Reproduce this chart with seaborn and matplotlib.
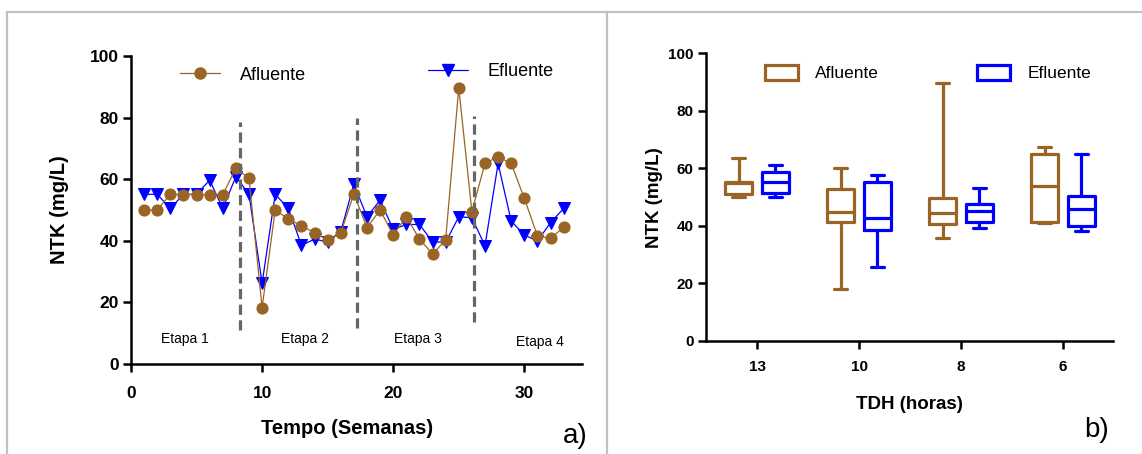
import numpy as np
import pandas as pd
import matplotlib
matplotlib.use("Agg")
import matplotlib.pyplot as plt
import seaborn as sns
from matplotlib.lines import Line2D
from matplotlib.patches import Patch

# ---------------- data ----------------
weeks = list(range(1, 34))
afluente = [50.0, 50.0, 55.1, 55.0, 55.0, 55.0, 55.0, 63.5, 60.3, 18.3, 50.0,
            47.1, 44.9, 42.6, 40.3, 42.6, 55.2, 44.3, 50.0, 41.9, 47.8, 40.6,
            35.7, 40.3, 89.7, 49.5, 65.1, 67.3, 65.1, 53.8, 41.6, 40.8, 44.4]
efluente = [55.1, 55.1, 50.5, 55.1, 55.1, 59.7, 50.5, 60.8, 55.1, 26.2, 55.1,
            50.5, 38.6, 40.5, 39.7, 43.0, 58.4, 47.8, 53.2, 43.7, 45.3, 45.3,
            39.7, 39.5, 47.8, 47.5, 38.4, 65.1, 46.4, 41.9, 39.9, 45.9, 50.5]

stage_bounds = [8.3, 17.25, 26.2]
stage_top = [78.6, 79.9, 80.5]
stage_bottom = [11.0, 11.7, 13.6]
stage_labels = ["Etapa 1", "Etapa 2", "Etapa 3", "Etapa 4"]
stage_label_x = [4.1, 13.3, 21.9, 31.2]
stage_label_y = [8.0, 8.0, 8.0, 7.3]

tdh = ["13", "10", "8", "6"]
# box summaries per TDH: min, q1, median, q3, max
afl_box = [[49.9, 51.1, 55.0, 55.4, 63.5],
           [18.0, 41.5, 44.7, 52.7, 60.1],
           [35.7, 40.6, 44.5, 49.8, 89.6],
           [40.9, 41.5, 53.9, 65.0, 67.3]]
efl_box = [[49.9, 51.3, 55.2, 58.9, 61.2],
           [25.6, 38.6, 42.6, 55.2, 57.8],
           [39.2, 41.5, 45.2, 47.5, 53.1],
           [38.2, 40.0, 45.8, 50.4, 64.9]]
series = ["Afluente", "Efluente"]

BROWN = "#9A6524"
BLUE = "#0000FF"

# ---------------- style ----------------
sns.set_style("ticks")
plt.rcParams['font.family'] = ['Liberation Sans', 'DejaVu Sans']
plt.rcParams['text.color'] = 'black'
plt.rcParams['axes.labelcolor'] = 'black'
plt.rcParams['xtick.color'] = 'black'
plt.rcParams['ytick.color'] = 'black'

fig = plt.figure(figsize=(11.42, 4.54), dpi=100)
W, H = 1142, 454

def fx(px):
    return px / W

def fy(py):
    return 1 - py / H

ax1 = fig.add_axes([fx(131), fy(364), (582 - 131) / W, (364 - 56) / H])
ax2 = fig.add_axes([fx(706), fy(341), (1113 - 706) / W, (341 - 53.3) / H])

# ---------------- left panel ----------------
sns.lineplot(x=weeks, y=efluente, color=BLUE, marker="v", markersize=8,
             markeredgecolor=BLUE, linewidth=0.9, ax=ax1)
sns.lineplot(x=weeks, y=afluente, color=BROWN, marker="o", markersize=8,
             markeredgecolor=BROWN, linewidth=0.9, ax=ax1)

ax1.vlines(stage_bounds, stage_bottom, stage_top, colors="#666666",
           linestyles=(0, (3.2, 1.7)), linewidth=2.3)
for x, y, t in zip(stage_label_x, stage_label_y, stage_labels):
    ax1.text(x, y, t, ha="center", va="center", fontsize=10, color="black")

ax1.set_xlim(0, 34.4)
ax1.set_ylim(0, 100)
ax1.set_xticks([0, 10, 20, 30])
ax1.set_yticks([0, 20, 40, 60, 80, 100])
ax1.tick_params(width=1.8, length=6, labelsize=12.5, color="black")
ax1.tick_params(axis="x", pad=10)
ax1.tick_params(axis="y", pad=3)
for lab in ax1.get_xticklabels() + ax1.get_yticklabels():
    lab.set_fontweight("bold")
for s in ["left", "bottom"]:
    ax1.spines[s].set_linewidth(1.8)
    ax1.spines[s].set_color("black")
sns.despine(ax=ax1)
ax1.set_xlabel("Tempo (Semanas)", fontsize=14.5, fontweight="bold")
ax1.set_ylabel("NTK (mg/L)", fontsize=14.5, fontweight="bold")
ax1.xaxis.set_label_coords(0.48, -0.18)
ax1.yaxis.set_label_coords(-0.137, 0.5)

h_afl = Line2D([], [], color=BROWN, marker="o", markersize=8, linewidth=0.9)
h_efl = Line2D([], [], color=BLUE, marker="v", markersize=8, linewidth=0.9)
fig.legend([h_afl], ["Afluente"], loc="center left",
           bbox_to_anchor=(fx(180), fy(75)), frameon=False,
           fontsize=13, handlelength=2.2, handletextpad=1.1,
           borderpad=0, borderaxespad=0)
fig.legend([h_efl], ["Efluente"], loc="center left",
           bbox_to_anchor=(fx(428), fy(72)), frameon=False,
           fontsize=13, handlelength=2.2, handletextpad=1.1,
           borderpad=0, borderaxespad=0)

# ---------------- right panel ----------------
rows = []
for i, t in enumerate(tdh):
    for v in afl_box[i]:
        rows.append({"TDH": t, "NTK": v, "Serie": series[0]})
    for v in efl_box[i]:
        rows.append({"TDH": t, "NTK": v, "Serie": series[1]})
df = pd.DataFrame(rows)

sns.boxplot(data=df, x="TDH", y="NTK", hue="Serie", order=tdh,
            hue_order=series, palette=[BROWN, BLUE], fill=False,
            width=0.72, gap=0.28, whis=(0, 100), linewidth=2.3,
            legend=False, ax=ax2)

ax2.set_xlim(-0.5, 3.49)
ax2.set_ylim(0, 100)
ax2.set_yticks([0, 20, 40, 60, 80, 100])
ax2.tick_params(width=1.8, length=6, labelsize=11, color="black")
ax2.tick_params(axis="x", pad=8)
ax2.tick_params(axis="y", pad=3)
for lab in ax2.get_xticklabels() + ax2.get_yticklabels():
    lab.set_fontweight("bold")
for s in ["left", "bottom"]:
    ax2.spines[s].set_linewidth(1.8)
    ax2.spines[s].set_color("black")
sns.despine(ax=ax2)
ax2.set_xlabel("TDH (horas)", fontsize=13.5, fontweight="bold")
ax2.set_ylabel("NTK (mg/L)", fontsize=13.5, fontweight="bold")
ax2.xaxis.set_label_coords(0.50, -0.19)
ax2.yaxis.set_label_coords(-0.106, 0.5)

p_afl = Patch(facecolor="white", edgecolor=BROWN, linewidth=2.3)
p_efl = Patch(facecolor="white", edgecolor=BLUE, linewidth=2.3)
fig.legend([p_afl], ["Afluente"], loc="center left",
           bbox_to_anchor=(fx(765), fy(73)), frameon=False, fontsize=12.5,
           handlelength=1.9, handleheight=0.95, handletextpad=1.0,
           borderpad=0, borderaxespad=0)
fig.legend([p_efl], ["Efluente"], loc="center left",
           bbox_to_anchor=(fx(977), fy(73)), frameon=False, fontsize=12.5,
           handlelength=1.9, handleheight=0.95, handletextpad=1.0,
           borderpad=0, borderaxespad=0)

# ---------------- panel letters & frame ----------------
fig.text(fx(575), fy(436), "a)", ha="center", va="center", fontsize=20)
fig.text(fx(1097), fy(430), "b)", ha="center", va="center", fontsize=20)

frame_kw = dict(color="#c0c0c0", linewidth=1.6, transform=fig.transFigure)
fig.add_artist(Line2D([fx(7), 1.0], [fy(12), fy(12)], **frame_kw))
fig.add_artist(Line2D([fx(7), fx(7)], [0, fy(12)], **frame_kw))
fig.add_artist(Line2D([fx(607), fx(607)], [0, fy(12)], **frame_kw))

fig.savefig("out.png", dpi=100)
